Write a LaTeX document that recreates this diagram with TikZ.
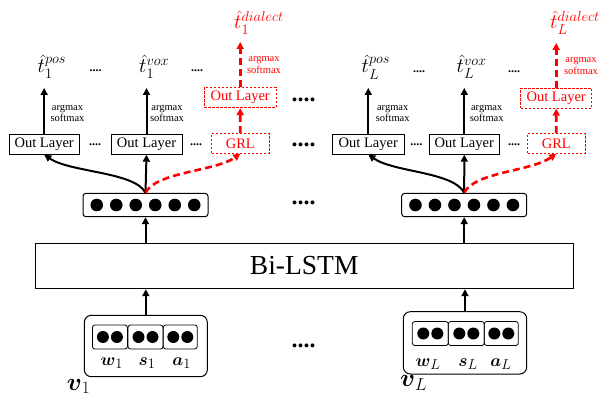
\documentclass[tikz,border=0pt]{standalone}
\usepackage{amsmath}
\usepackage{fontspec}
\setmainfont{Liberation Serif}
\usetikzlibrary{arrows.meta}
\definecolor{myred}{RGB}{255,0,0}
\DeclareMathSizes{20}{20}{15}{11}
\DeclareMathSizes{18}{18}{14}{10}
\DeclareMathSizes{26}{26}{19}{14}
\begin{document}
\begin{tikzpicture}[x=1pt,y=-1pt,
  box/.style={draw, line width=0.8pt, inner sep=0pt, minimum height=19.4pt, font=\fontsize{14.5}{16}\selectfont},
  rbox/.style={box, draw=myred, text=myred, dash pattern=on 2.5pt off 1.5pt},
  arr/.style={line width=2pt, -{Triangle[length=7pt,width=7pt]}},
  rarr/.style={arr, color=myred, line width=2.6pt, dash pattern=on 7pt off 4pt},
  fbox/.style={draw, rounded corners=3pt, line width=1pt, minimum width=125pt, minimum height=23.4pt, inner sep=0pt},
  obox/.style={draw, rounded corners=7pt, line width=1pt, inner sep=0pt},
  cell/.style={draw, rounded corners=2.5pt, line width=0.8pt, minimum width=35pt, minimum height=24pt, inner sep=0pt},
  tl/.style={inner sep=0pt, font=\fontsize{20}{20}\selectfont},
  am/.style={inner sep=0pt, align=center, font=\fontsize{10.5}{11.7}\selectfont},
  sd/.style={inner sep=0pt, font=\fontsize{12}{12}\selectfont\bfseries},
  bd/.style={inner sep=0pt, font=\fontsize{24}{24}\selectfont\bfseries},
  vl/.style={inner sep=0pt, font=\fontsize{18}{18}\selectfont},
  bl/.style={inner sep=0pt, font=\fontsize{26}{26}\selectfont}
]
\useasboundingbox (0,0) rectangle (605,398);

% Bi-LSTM
\node[draw, line width=1pt, minimum width=538.3pt, minimum height=45.4pt, inner sep=0pt,
      font=\fontsize{27.5}{30}\selectfont] (lstm) at (304.2,266) {Bi-LSTM};

% ---------- left group ----------
\node[fbox] (f1) at (145.5,205) {};
\foreach \i in {0,...,5} \fill ([xshift={-48.75pt+19.5pt*\i}]f1.center) circle (6.3pt);

\node[box, minimum width=70.3pt] (o1) at (44.2,144.6) {Out Layer};
\node[box, minimum width=71pt] (o2) at (146.5,144.6) {Out Layer};
\node[rbox, minimum width=57.3pt, minimum height=20pt] (g1) at (240.3,143.3) {GRL};
\node[rbox, minimum width=71.7pt, minimum height=20.4pt] (r1) at (240.2,97.5) {Out Layer};

\coordinate (c1) at (44.2,88);
\coordinate (c2) at (146.5,88);
\coordinate (c3) at (240.2,42);

\node[tl, anchor=base west] (t1) at (37.5,73) {$\hat{t}_1^{pos}$};
\node[tl, anchor=base west] (t2) at (139,73) {$\hat{t}_1^{vox}$};
\node[tl, anchor=base west, text=myred] (t3) at (234,29) {$\hat{t}_1^{dialect}$};

\node[am] (a1) at (67.5,113.5) {argmax\\softmax};
\node[am] (a2) at (167,113.5) {argmax\\softmax};
\node[am, text=myred] (a3) at (264,65) {argmax\\softmax};

\node[sd] (d1) at (95.5,71) {....};
\node[sd] (d2) at (197,71) {....};
\node[sd] (d3) at (95,145) {....};
\node[sd] (d4) at (196,145) {....};

\draw[arr] (lstm.north -| f1.south) -- (f1.south);
\draw[arr] (f1.north) .. controls +(-10.5,-21) and +(25.8,17.7) .. (o1.south);
\draw[arr] (f1.north) -- (o2.south);
\draw[rarr] (f1.north) .. controls +(10.5,-21) and +(-25,17.7) .. (g1.south);
\draw[arr] (o1.north) -- (c1);
\draw[arr] (o2.north) -- (c2);
\draw[rarr] (g1.north) -- (r1.south);
\draw[rarr] (r1.north) -- (c3);

% ---------- right group ----------
\node[fbox] (f2) at (464.2,205) {};
\foreach \i in {0,...,5} \fill ([xshift={-48.75pt+19.5pt*\i}]f2.center) circle (6.3pt);

\node[box, minimum width=71.3pt] (p1) at (368.3,144.6) {Out Layer};
\node[box, minimum width=70pt] (p2) at (464.3,144.6) {Out Layer};
\node[rbox, minimum width=57.3pt, minimum height=20pt] (g2) at (556.3,143.3) {GRL};
\node[rbox, minimum width=71pt, minimum height=20pt] (r2) at (556.2,98.3) {Out Layer};

\coordinate (e1) at (368.3,88);
\coordinate (e2) at (464.3,88);
\coordinate (e3) at (556.2,43);

\node[tl, anchor=base west] (u1) at (361.5,73) {$\hat{t}_L^{pos}$};
\node[tl, anchor=base west] (u2) at (456.5,73) {$\hat{t}_L^{vox}$};
\node[tl, anchor=base west, text=myred] (u3) at (550,29) {$\hat{t}_L^{dialect}$};

\node[am] (b1) at (392.7,113.5) {argmax\\softmax};
\node[am] (b2) at (486.7,113.5) {argmax\\softmax};
\node[am, text=myred] (b3) at (581,66) {argmax\\softmax};

\node[sd] (h1) at (419,72) {....};
\node[sd] (h2) at (514,72) {....};
\node[sd] (h3) at (416.3,145) {....};
\node[sd] (h4) at (514,145) {....};

\draw[arr] (lstm.north -| f2.south) -- (f2.south);
\draw[arr] (f2.north) .. controls +(-10.5,-21) and +(25.8,17.7) .. (p1.south);
\draw[arr] (f2.north) -- (p2.south);
\draw[rarr] (f2.north) .. controls +(10.5,-21) and +(-25,17.7) .. (g2.south);
\draw[arr] (p1.north) -- (e1);
\draw[arr] (p2.north) -- (e2);
\draw[rarr] (g2.north) -- (r2.south);
\draw[rarr] (r2.north) -- (e3);

% ---------- middle dots ----------
\node[bd] (m1) at (303.5,100) {....};
\node[bd] (m2) at (303.5,145) {....};
\node[bd] (m3) at (303.5,203) {....};
\node[bd] (m4) at (303.5,346) {....};

% ---------- inputs ----------
\node[obox, minimum width=123pt, minimum height=61.4pt] (in1) at (145.8,346) {};
\node[cell] (w1) at (109.9,337) {};
\node[cell] (s1) at (145.5,337) {};
\node[cell, minimum width=34pt] (x1) at (180.3,337) {};
\foreach \n in {w1,s1,x1} {
  \fill ([xshift=-7pt]\n.center) circle (6pt);
  \fill ([xshift=7pt]\n.center) circle (6pt);
}
\node[vl, anchor=base] (lw1) at (111.7,365) {$\boldsymbol{w}_1$};
\node[vl, anchor=base] (ls1) at (147,365) {$\boldsymbol{s}_1$};
\node[vl, anchor=base] (la1) at (181.7,365) {$\boldsymbol{a}_1$};
\node[bl, anchor=base west] (v1) at (66.7,390) {$\boldsymbol{v}_1$};

\node[obox, minimum width=123.4pt, minimum height=62.3pt] (in2) at (465,342.85) {};
\node[cell, minimum width=36pt] (w2) at (430.3,333.5) {};
\node[cell, minimum width=36pt] (s2) at (466.3,333.5) {};
\node[cell, minimum width=34pt] (x2) at (501.3,333.5) {};
\foreach \n in {w2,s2,x2} {
  \fill ([xshift=-7pt]\n.center) circle (6pt);
  \fill ([xshift=7pt]\n.center) circle (6pt);
}
\node[vl, anchor=base] (lw2) at (428,366) {$\boldsymbol{w}_L$};
\node[vl, anchor=base] (ls2) at (468,366) {$\boldsymbol{s}_L$};
\node[vl, anchor=base] (la2) at (501,366) {$\boldsymbol{a}_L$};
\node[bl, anchor=base west] (v2) at (400,386.7) {$\boldsymbol{v}_L$};

\draw[arr] (in1.north) -- (in1.north |- lstm.south);
\draw[arr] (in2.north) -- (in2.north |- lstm.south);
\end{tikzpicture}
\end{document}
